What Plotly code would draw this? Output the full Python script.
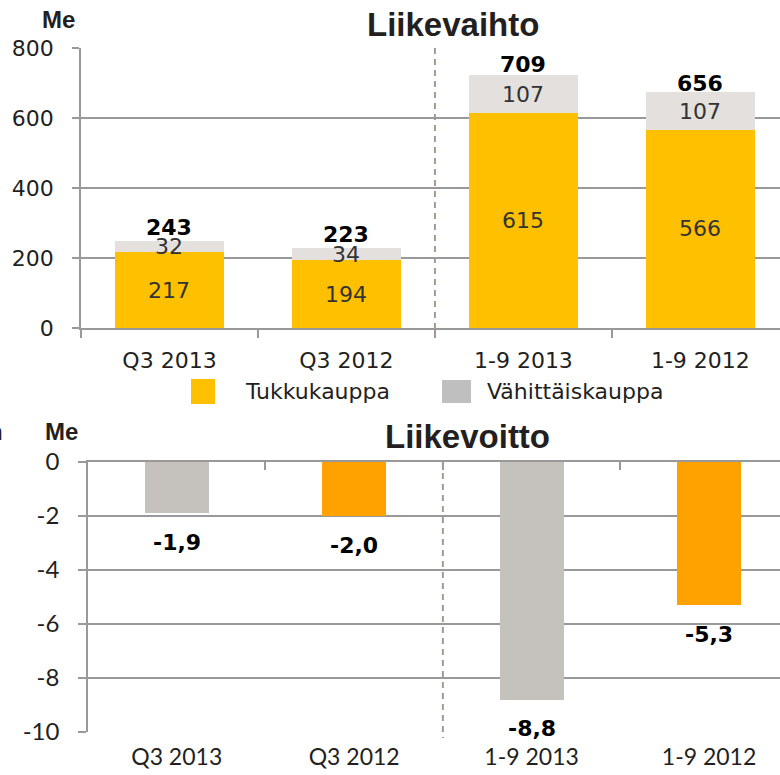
import plotly.graph_objects as go

W, H = 780, 775

# ---- data ----
categories = ["Q3 2013", "Q3 2012", "1-9 2013", "1-9 2012"]
tukkukauppa = [217, 194, 615, 566]
vahittaiskauppa = [32, 34, 107, 107]
totals = [243, 223, 709, 656]
liikevoitto = [-1.9, -2.0, -8.8, -5.3]
top_ticks = [0, 200, 400, 600, 800]
bottom_ticks = [0, -2, -4, -6, -8, -10]
title_top = "Liikevaihto"
title_bottom = "Liikevoitto"
unit = "Me"
legend_names = ["Tukkukauppa", "Vähittäiskauppa"]

# ---- styles ----
GOLD = "#FFC000"
LIGHTGRAY = "#E3E0DD"
BAR_GRAY = "#C5C1BC"
ORANGE = "#FFA200"
LEG_GRAY = "#BFBFBF"
GRID = "#999999"
TXT = "#231F20"
DASH = "#A39A92"
ebit_colors = [BAR_GRAY, ORANGE, BAR_GRAY, ORANGE]

VERD = "DejaVu Sans"
ARIAL = "Liberation Sans"
GILL = "Lato"


def px(x):
    return x / W


def py(y):
    return 1 - y / H


fig = go.Figure()
fig.add_trace(go.Bar(x=categories, y=tukkukauppa, marker=dict(color=GOLD, line=dict(width=0)),
                     width=0.62, xaxis="x", yaxis="y", showlegend=False, hoverinfo="skip"))
fig.add_trace(go.Bar(x=categories, y=vahittaiskauppa, marker=dict(color=LIGHTGRAY, line=dict(width=0)),
                     width=0.62, xaxis="x", yaxis="y", showlegend=False, hoverinfo="skip"))
fig.add_trace(go.Bar(x=categories, y=liikevoitto, marker=dict(color=ebit_colors, line=dict(width=0)),
                     width=0.36, xaxis="x2", yaxis="y2", showlegend=False, hoverinfo="skip"))
# invisible helper so the overlay axis knows the categories
fig.add_trace(go.Scatter(x=categories, y=[0] * len(categories), mode="markers",
                         marker=dict(opacity=0), xaxis="x3", yaxis="y2",
                         showlegend=False, hoverinfo="skip"))

ann = []
for c, t, v, tot in zip(categories, tukkukauppa, vahittaiskauppa, totals):
    ann.append(dict(x=c, y=t / 2, xref="x", yref="y", text=str(t), showarrow=False,
                    xanchor="center", yanchor="middle",
                    font=dict(family=VERD, size=22, color="#333333")))
    ann.append(dict(x=c, y=t + v / 2, xref="x", yref="y", text=str(v), showarrow=False,
                    xanchor="center", yanchor="middle",
                    font=dict(family=VERD, size=22, color="#333333")))
    ann.append(dict(x=c, y=tot, xref="x", yref="y", text=f"<b>{tot}</b>", showarrow=False,
                    xanchor="center", yanchor="middle",
                    yshift=15, font=dict(family=VERD, size=22, color="#000000")))
for c, e in zip(categories, liikevoitto):
    ann.append(dict(x=c, y=e, xref="x2", yref="y2", text="<b>" + f"{e:.1f}".replace(".", ",") + "</b>",
                    xanchor="center", yanchor="middle",
                    showarrow=False, yshift=-29, font=dict(family=VERD, size=22, color="#000000")))


def paper_text(x, y, text, font, xanchor="center"):
    return dict(x=px(x), y=py(y), xref="paper", yref="paper", text=text, showarrow=False,
                xanchor=xanchor, yanchor="middle", font=font)


# titles and units
ann.append(paper_text(453, 24, f"<b>{title_top}</b>", dict(family=ARIAL, size=33, color=TXT)))
ann.append(paper_text(467, 436, f"<b>{title_bottom}</b>", dict(family=ARIAL, size=33, color=TXT)))
ann.append(paper_text(59, 19, f"<b>{unit}</b>", dict(family=ARIAL, size=24, color=TXT)))
ann.append(paper_text(61, 432, f"<b>{unit}</b>", dict(family=ARIAL, size=24, color=TXT)))
ann.append(paper_text(5, 431, "<b>n</b>", dict(family=ARIAL, size=24, color=TXT), xanchor="right"))
# legend texts
ann.append(paper_text(243, 391, legend_names[0], dict(family=VERD, size=22, color=TXT), xanchor="left"))
ann.append(paper_text(485, 391, legend_names[1], dict(family=VERD, size=22, color=TXT), xanchor="left"))

shapes = [
    dict(type="rect", xref="paper", yref="paper", x0=px(191), x1=px(215), y0=py(404), y1=py(379),
         fillcolor=GOLD, line=dict(width=0)),
    dict(type="rect", xref="paper", yref="paper", x0=px(442), x1=px(471), y0=py(403), y1=py(380),
         fillcolor=LEG_GRAY, line=dict(width=0)),
    dict(type="line", xref="x", yref="paper", x0=1.5, x1=1.5, y0=py(48), y1=py(336),
         line=dict(color=DASH, width=2, dash="6px,5px")),
    dict(type="line", xref="x2", yref="paper", x0=1.5, x1=1.5, y0=py(462), y1=py(738),
         line=dict(color=DASH, width=2, dash="6px,5px")),
]

fig.update_layout(
    width=W, height=H,
    margin=dict(l=0, r=0, t=0, b=0, pad=0, autoexpand=False),
    paper_bgcolor="white", plot_bgcolor="white",
    barmode="stack", bargap=0,
    showlegend=False,
    annotations=ann, shapes=shapes,
    xaxis=dict(domain=[px(81), 1], range=[-0.5, 3.45], type="category", anchor="y", automargin=False,
               tickson="boundaries", ticks="outside", ticklen=8, tickwidth=1.5, tickcolor=GRID,
               showline=True, linecolor=GRID, linewidth=1.5, showgrid=False,
               tickfont=dict(family=VERD, size=22, color=TXT), ticklabelstandoff=12),
    yaxis=dict(domain=[py(328), py(48)], range=[0, 800], anchor="x", tickvals=top_ticks,
               ticktext=[str(v) for v in top_ticks], automargin=False,
               showgrid=True, gridcolor=GRID, gridwidth=1.5, zeroline=False,
               showline=True, linecolor=GRID, linewidth=1.5,
               ticks="outside", ticklen=7, tickwidth=1.5, tickcolor=GRID,
               tickfont=dict(family=VERD, size=22, color=TXT), ticklabelstandoff=14),
    xaxis2=dict(domain=[px(88), 1], range=[-0.5, 3.40], type="category", anchor="y2", side="bottom",
                categoryorder="array", categoryarray=categories, automargin=False,
                ticks="", showline=False, showgrid=False,
                tickfont=dict(family=GILL, size=23, color=TXT), ticklabelstandoff=9),
    xaxis3=dict(overlaying="x2", matches="x2", type="category", anchor="y2", side="top",
                categoryorder="array", categoryarray=categories, automargin=False,
                tickson="boundaries", ticks="inside", ticklen=8, tickwidth=1.5, tickcolor=GRID,
                showticklabels=False, showline=True, linecolor=GRID, linewidth=1.5, showgrid=False),
    yaxis2=dict(domain=[py(732), py(462)], range=[-10, 0], anchor="x2", tickvals=bottom_ticks,
                ticktext=[str(v) for v in bottom_ticks], automargin=False,
                showgrid=True, gridcolor=GRID, gridwidth=1.5, zeroline=False,
                showline=True, linecolor=GRID, linewidth=1.5,
                ticks="outside", ticklen=8, tickwidth=1.5, tickcolor=GRID,
                tickfont=dict(family=GILL, size=24, color=TXT), ticklabelstandoff=14),
)

fig.write_html("out.html", config={"displayModeBar": False},
               post_script="document.body.style.margin='0';")
